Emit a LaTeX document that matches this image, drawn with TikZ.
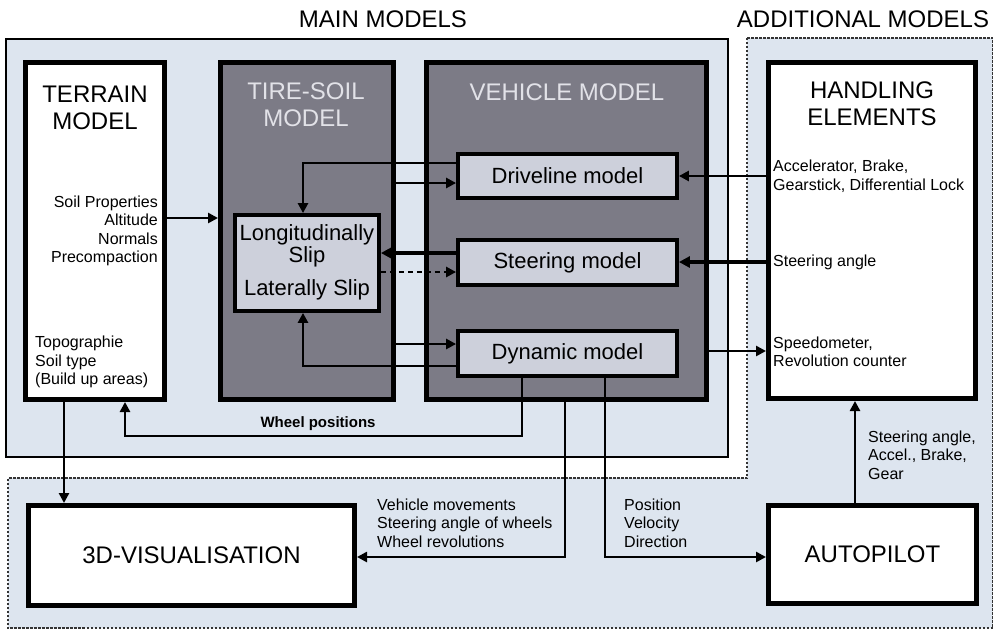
\documentclass[tikz,border=0pt]{standalone}
\usepackage{fontspec}
\setmainfont{Liberation Sans}
\usetikzlibrary{arrows.meta,fit}
\definecolor{bgblue}{HTML}{DDE5EF}
\definecolor{darkbox}{HTML}{7C7B86}
\definecolor{lightbox}{HTML}{CDD0DB}
\definecolor{titlegrey}{HTML}{E2E2E8}
\begin{document}
\begin{tikzpicture}[x=1pt,y=-1pt,
  whitebox/.style={draw=black, line width=5pt, fill=white, inner sep=0pt},
  darkpanel/.style={draw=black, line width=5pt, fill=darkbox, inner sep=0pt},
  submodel/.style={draw=black, line width=3.8pt, fill=lightbox, inner sep=0pt},
  bigtitle/.style={font=\fontsize{24}{27}\selectfont, align=center, inner sep=0pt},
  midtext/.style={font=\fontsize{22}{22}\selectfont, align=center, inner sep=0pt},
  smalltext/.style={font=\fontsize{16}{18.5}\selectfont, inner sep=0pt},
  arr/.style={line width=2.6pt, -{Triangle[length=10pt,width=10pt]}},
  heavyarr/.style={line width=3.6pt, -{Triangle[length=11pt,width=11pt]}},
  dasharr/.style={line width=2.6pt, dash pattern=on 5pt off 4pt, -{Triangle[length=10pt,width=10pt]}}
]
\useasboundingbox (0,0) rectangle (993,630);
\fill[white] (0,0) rectangle (993,630);

% regions
\node[draw=black, line width=2.6pt, fill=bgblue, inner sep=0pt, fit={(6,39) (728,457)}] (mainregion) {};
\path[draw=black!80, line width=1.2pt, dash pattern=on 2.5pt off 1.5pt, fill=bgblue]
  (747,38) -- (993,38) -- (993,628) -- (8,628) -- (8,478) -- (747,478) -- cycle;
\node[bigtitle] (maintitle) at (383,19) {MAIN MODELS};
\node[bigtitle] (addtitle) at (863,19) {ADDITIONAL MODELS};

% main boxes
\node[whitebox, fit={(25.5,62.5) (164.5,399.5)}] (terrain) {};
\node[darkpanel, fit={(220.5,62.5) (393.5,399.5)}] (tiresoil) {};
\node[darkpanel, fit={(426.5,62.5) (706.5,399.5)}] (vehicle) {};
\node[whitebox, fit={(768.5,62.5) (975.5,398.5)}] (handling) {};
\node[submodel, fit={(235,215) (379,311)}] (slip) {};
\node[submodel, fit={(458,154) (677,198)}] (driveline) {};
\node[submodel, fit={(458,240) (677,285)}] (steering) {};
\node[submodel, fit={(458,331) (677,376)}] (dynamic) {};
\node[whitebox, fit={(28.5,505.5) (354.5,605.5)}] (vis) {};
\node[whitebox, fit={(768.5,505.5) (976.5,603.5)}] (autopilot) {};

% titles and texts
\node[bigtitle] (terraintitle) at (95,108) {TERRAIN\\MODEL};
\node[bigtitle, text=titlegrey] (tiretitle) at (306,105) {TIRE-SOIL\\MODEL};
\node[bigtitle, text=titlegrey] (vehicletitle) at (567,92) {VEHICLE MODEL};
\node[bigtitle] (handlingtitle) at (872,104) {HANDLING\\ELEMENTS};
\node[smalltext, align=right, anchor=east] (soiltext) at (158,231) {Soil Properties\\Altitude\\Normals\\Precompaction};
\node[smalltext, align=left, anchor=west] (topotext) at (35,362) {Topographie\\Soil type\\(Build up areas)};
\node[midtext] (longtext) at (307,246) {Longitudinally\\[0pt]Slip};
\node[midtext] (lattext) at (307,290) {Laterally Slip};
\node[midtext] (drivetext) at (driveline.center) {Driveline model};
\node[midtext] (steertext) at (steering.center) {Steering model};
\node[midtext] (dyntext) at (dynamic.center) {Dynamic model};
\node[smalltext, align=left, anchor=west] (acctext) at (773,176) {Accelerator, Brake,\\Gearstick, Differential Lock};
\node[smalltext, align=left, anchor=west] (steerangle) at (773,262) {Steering angle};
\node[smalltext, align=left, anchor=west] (speedtext) at (773,352) {Speedometer,\\Revolution counter};
\node[font=\fontsize{15}{18}\selectfont\bfseries, inner sep=0pt] (wheelpos) at (318,424) {Wheel positions};
\node[smalltext, align=left, anchor=west] (movtext) at (377,523) {Vehicle movements\\Steering angle of wheels\\Wheel revolutions};
\node[smalltext, align=left, anchor=west] (postext) at (624,523) {Position\\Velocity\\Direction};
\node[smalltext, align=left, anchor=west] (autotext) at (868,455) {Steering angle,\\Accel., Brake,\\Gear};
\node[bigtitle] (vistext) at (vis.center) {3D-VISUALISATION};
\node[bigtitle] (autopilottext) at (autopilot.center) {AUTOPILOT};

% connectors
\coordinate (wp) at (125,436);
\draw[arr] (terrain.east |- 0,218) -- (tiresoil.west |- 0,218);
\draw[arr] (driveline.west |- 0,163) -| (slip.north -| 303,0);
\draw[arr] (tiresoil.east |- 0,183) -- (driveline.west |- 0,183);
\draw[heavyarr] (steering.west |- 0,253) -- (slip.east |- 0,253);
\draw[dasharr] (slip.east |- 0,272) -- (steering.west |- 0,272);
\draw[arr] (tiresoil.east |- 0,344) -- (dynamic.west |- 0,344);
\draw[arr] (dynamic.west |- 0,366) -| (slip.south -| 303,0);
\draw[arr] (handling.west |- 0,176) -- (driveline.east |- 0,176);
\draw[heavyarr] (handling.west |- 0,262) -- (steering.east |- 0,262);
\draw[arr] (vehicle.east |- 0,351) -- (handling.west |- 0,351);
\draw[arr] (dynamic.south -| 522,0) |- (wp) -- (terrain.south -| wp);
\draw[arr] (vehicle.south -| 565,0) |- (vis.east |- 0,557);
\draw[arr] (dynamic.south -| 605,0) |- (autopilot.west |- 0,557);
\draw[arr] (terrain.south -| 64,0) -- (vis.north -| 64,0);
\draw[arr] (autopilot.north -| 855,0) -- (handling.south -| 855,0);
\end{tikzpicture}
\end{document}
